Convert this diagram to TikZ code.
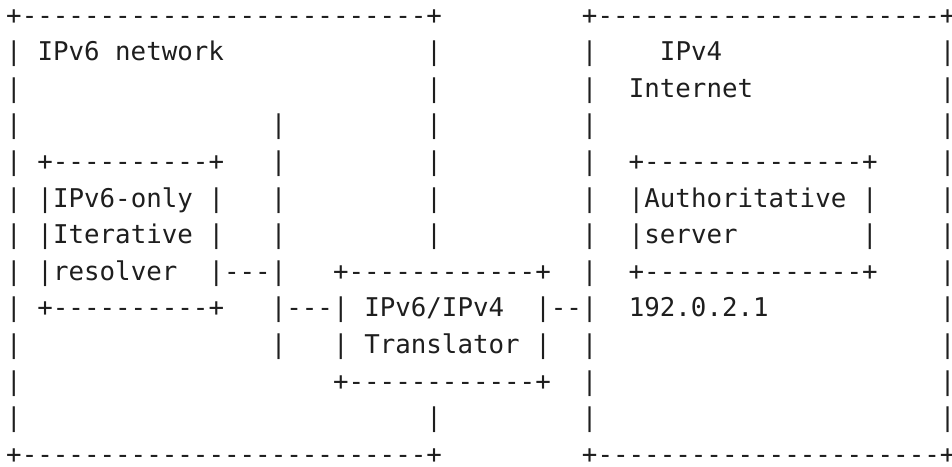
\documentclass[tikz,border=0pt]{standalone}
\usepackage{fontspec}
\newfontfamily\asciifont{DejaVu Sans Mono}
\definecolor{ink}{HTML}{1E1E1E}

% one '+----+' run: row, first column, last column
\newcommand{\asciirule}[3]{%
  \node[chr] (p#1-#2) at (#2,#1) {+};
  \node[chr] (p#1-#3) at (#3,#1) {+};
  \pgfmathtruncatemacro\first{#2+1}
  \pgfmathtruncatemacro\last{#3-1}
  \foreach \c in {\first,...,\last} \node[chr] (d#1-\c) at (\c,#1) {-};
}
% one column of '|': column, first row, last row
\newcommand{\asciibar}[3]{%
  \foreach \r in {#2,...,#3} \node[chr] (b\r-#1) at (#1,\r) {|};
}

\begin{document}
\begin{tikzpicture}[x=15.56pt, y=-36.6pt,
  chr/.style={inner sep=0pt, anchor=base, text=ink,
    font=\asciifont\fontsize{25.8}{30}\selectfont},
  txt/.style={chr, anchor=base west}]

\useasboundingbox (-0.9,-0.656) rectangle (60.28,12.077);

% outer boxes
\asciirule{0}{0}{27}
\asciirule{12}{0}{27}
\asciirule{0}{37}{60}
\asciirule{12}{37}{60}
\asciibar{0}{1}{11}
\asciibar{27}{1}{6}
\asciibar{27}{11}{11}
\asciibar{37}{1}{11}
\asciibar{60}{1}{11}

% resolver
\asciirule{4}{2}{13}
\asciirule{8}{2}{13}
\asciibar{2}{5}{7}
\asciibar{13}{5}{7}

% translator
\asciirule{7}{21}{34}
\asciirule{10}{21}{34}
\asciibar{21}{8}{9}
\asciibar{34}{8}{9}

% authoritative server
\asciirule{4}{40}{55}
\asciirule{7}{40}{55}
\asciibar{40}{5}{6}
\asciibar{55}{5}{6}

% link bar and dashes
\asciibar{17}{3}{9}
\foreach \c in {14,15,16} \node[chr] (l7-\c) at (\c,7) {-};
\foreach \c in {18,19,20} \node[chr] (l8-\c) at (\c,8) {-};
\foreach \c in {35,36} \node[chr] (l8-\c) at (\c,8) {-};

% labels
\node[txt] (v6net) at (1.5,1) {IPv6 network};
\node[txt] (v4net) at (41.5,1) {IPv4};
\node[txt] (inet) at (39.5,2) {Internet};
\node[txt] (res1) at (2.5,5) {IPv6-only};
\node[txt] (res2) at (2.5,6) {Iterative};
\node[txt] (res3) at (2.5,7) {resolver};
\node[txt] (auth1) at (40.5,5) {Authoritative};
\node[txt] (auth2) at (40.5,6) {server};
\node[txt] (xlat1) at (22.5,8) {IPv6/IPv4};
\node[txt] (xlat2) at (22.5,9) {Translator};
\node[txt] (addr) at (39.5,8) {192.0.2.1};

\end{tikzpicture}
\end{document}
